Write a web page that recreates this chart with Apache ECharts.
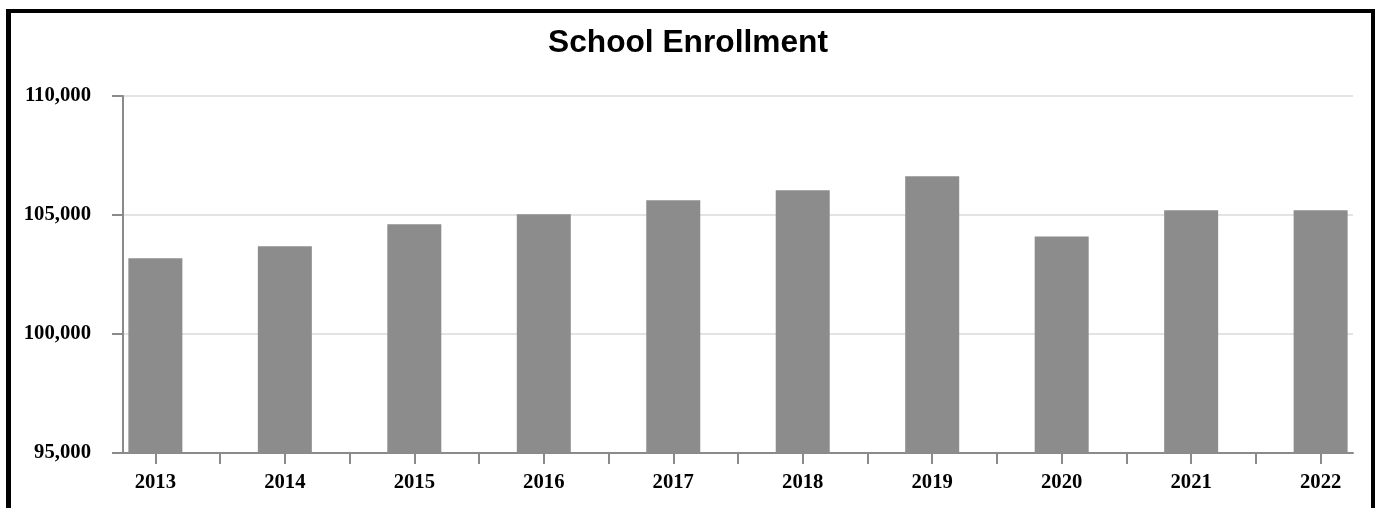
<!DOCTYPE html>
<html>
<head>
<meta charset="utf-8">
<title>School Enrollment</title>
<script src="https://cdn.jsdelivr.net/npm/echarts@6/dist/echarts.min.js"></script>
<style>
  html, body { margin: 0; padding: 0; background: #ffffff; }
  #chart { position: absolute; left: 0; top: 0; width: 1376px; height: 508px; }
  #frame {
    position: absolute; left: 6px; top: 9px; width: 1360px; height: 520px;
    border: 4px solid #000; border-left-width: 5px; pointer-events: none;
  }
</style>
</head>
<body>
<div id="chart"></div>
<div id="frame"></div>
<script>
// School enrollment by year
const years = ['2013', '2014', '2015', '2016', '2017', '2018', '2019', '2020', '2021', '2022'];
const enrollment = [103180, 103690, 104610, 105030, 105620, 106040, 106630, 104100, 105200, 105200];
const yTicks = [95000, 100000, 105000, 110000];

const axisGrey = '#8a8a8a';
const labelFont = { fontFamily: '"Liberation Serif", "Times New Roman", serif', fontWeight: 'bold', fontSize: 20.7, color: '#000' };

// Bars sit on a numeric index scale so the years keep a small inset from the frame edges
const barPoints = enrollment.map((v, i) => [i, v]);
const xMin = -0.25;
const xMax = years.length - 0.75;

// Tick/label row: one slot per year plus one between neighbouring years
const tickSlots = [];
years.forEach((y, i) => {
  tickSlots.push(y);
  if (i < years.length - 1) tickSlots.push('');
});

const plotLeft = 123, plotRight = 23, plotTop = 96, plotBottom = 55;
const plotWidth = 1376 - plotLeft - plotRight;
const inset = plotWidth * (0 - xMin) / (xMax - xMin);

const chart = echarts.init(document.getElementById('chart'), null, { renderer: 'canvas' });
chart.setOption({
  animation: false,
  backgroundColor: '#ffffff',
  title: {
    text: 'School Enrollment',
    left: 'center',
    top: 27,
    padding: 0,
    textStyle: { fontFamily: '"Liberation Sans", Arial, sans-serif', fontWeight: 'bold', fontSize: 31.7, color: '#000' }
  },
  grid: [
    { left: plotLeft, right: plotRight, top: plotTop, bottom: plotBottom, containLabel: false },
    { left: plotLeft + inset, right: plotRight + inset, top: plotTop, bottom: plotBottom, containLabel: false }
  ],
  xAxis: [{
    gridIndex: 0,
    type: 'value',
    min: xMin,
    max: xMax,
    splitLine: { show: false },
    axisLine: { show: true, onZero: false, lineStyle: { color: axisGrey, width: 2 } },
    axisTick: { show: false },
    axisLabel: { show: false }
  }, {
    gridIndex: 1,
    type: 'category',
    data: tickSlots,
    boundaryGap: false,
    splitLine: { show: false },
    axisLine: { show: false, onZero: false },
    axisTick: { show: true, interval: 0, length: 11, lineStyle: { color: axisGrey, width: 2 } },
    axisLabel: Object.assign({ interval: 0, margin: 19 }, labelFont)
  }],
  yAxis: [{
    gridIndex: 0,
    type: 'value',
    min: yTicks[0],
    max: yTicks[yTicks.length - 1],
    interval: yTicks[1] - yTicks[0],
    axisLine: { show: true, onZero: false, lineStyle: { color: axisGrey, width: 2 } },
    axisTick: { show: true, length: 11, lineStyle: { color: axisGrey, width: 2 } },
    splitLine: { show: true, lineStyle: { color: '#e3e3e3', width: 2 } },
    axisLabel: Object.assign({
      margin: 32,
      padding: [3, 0, 0, 0],
      formatter: v => v.toLocaleString('en-US')
    }, labelFont)
  }, {
    gridIndex: 1,
    type: 'value',
    min: yTicks[0],
    max: yTicks[yTicks.length - 1],
    show: false
  }],
  series: [{
    type: 'bar',
    xAxisIndex: 0,
    yAxisIndex: 0,
    data: barPoints,
    barWidth: 54,
    itemStyle: { color: '#8c8c8c' }
  }]
});
</script>
</body>
</html>
